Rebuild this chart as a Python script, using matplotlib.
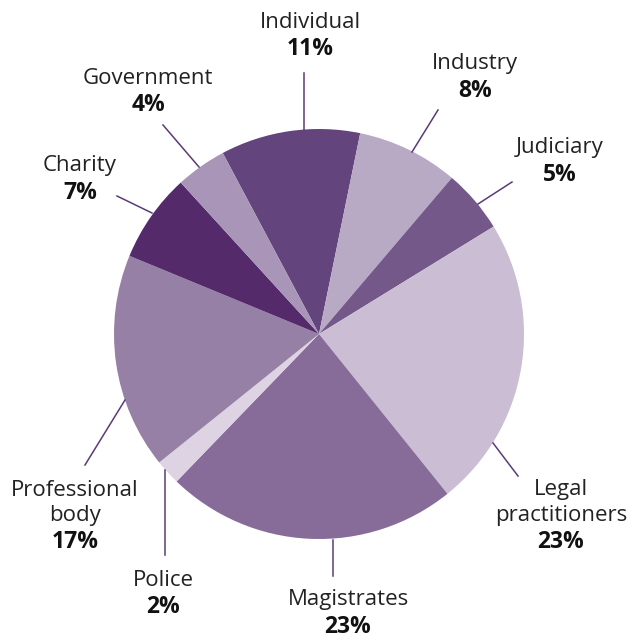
import matplotlib

matplotlib.use("Agg")
import matplotlib.pyplot as plt
from matplotlib import font_manager

names = {f.name for f in font_manager.fontManager.ttflist}
FAMILY = ["Liberation Sans Narrow", "Open Sans", "DejaVu Sans"]
FAMILY = [f for f in FAMILY if f in names] or ["DejaVu Sans"]
plt.rcParams["font.family"] = FAMILY

# data, clockwise from the top
categories = ["Individual", "Industry", "Judiciary", "Legal\npractitioners", "Magistrates",
              "Police", "Professional\nbody", "Charity", "Government"]
shares = [11, 8, 5, 23, 23, 2, 17, 7, 4]
colors = ["#63447c", "#b8a9c5", "#745889", "#cbbdd3", "#876c99",
          "#ddd3e3", "#9680a6", "#542a6b", "#a895b7"]

# layout in pixel space: leader start, leader end, first label line centre
leaders = [
    ((304, 130), (304, 73), (310, 22)),
    ((412, 152), (438, 110), (475, 64)),
    ((478, 204), (512, 182), (560, 148)),
    ((493, 443), (518, 476), (561, 490)),
    ((333, 540), (333, 576), (348, 600)),
    ((165, 470), (165, 555), (163, 580)),
    ((125, 400), (85, 465), (75, 490)),
    ((152, 213), (117, 196), (80, 166)),
    ((199, 167), (163, 125), (148, 78)),
]
LINE = 25  # px between name lines
PCT_GAP = 27  # px from last name line to the percentage

fig = plt.figure(figsize=(6.32, 6.41), dpi=100)
ax = fig.add_axes([0, 0, 1, 1])

ax.pie(shares, colors=colors, startangle=-118, counterclock=True,
       center=(319, 334), radius=205, wedgeprops=dict(linewidth=0),
       frame=True)
ax.set_xlim(0, 632)
ax.set_ylim(641, 0)
ax.set_aspect("equal")
ax.axis("off")

for name, val, (p0, p1, pt) in zip(categories, shares, leaders):
    ax.plot([p0[0], p1[0]], [p0[1], p1[1]], color="#5b3a78", lw=1.1)
    rows = name.split("\n")
    for i, row in enumerate(rows):
        ax.text(pt[0], pt[1] + i * LINE, row, ha="center", va="center",
                fontsize=16, color="#222222")
    ax.text(pt[0], pt[1] + (len(rows) - 1) * LINE + PCT_GAP, f"{val}%",
            ha="center", va="center", fontsize=16.5, fontweight="bold", color="#111111")

fig.savefig("out.png", dpi=100)
